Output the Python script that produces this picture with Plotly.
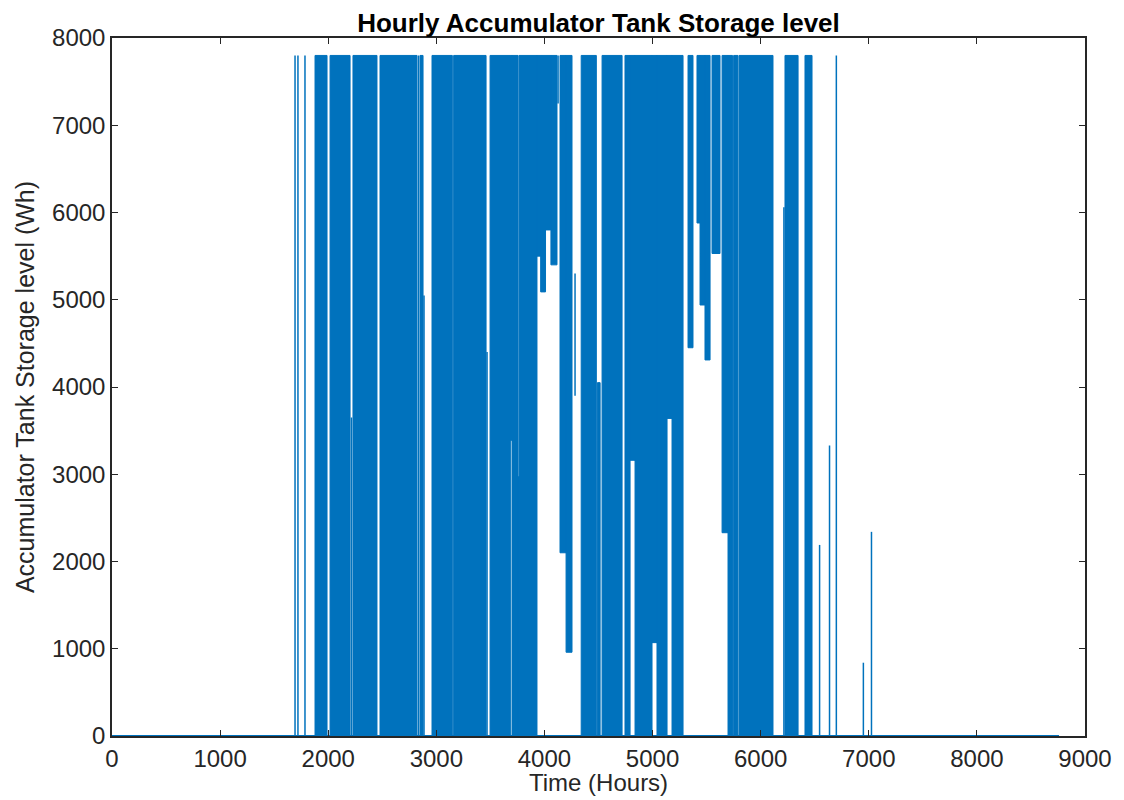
import plotly.graph_objects as go

# Solid regions where the hourly level swings repeatedly (hours, Wh)
block_start = [1878, 2017, 2229, 2479, 2849, 2960, 3160, 3497, 3685, 3700, 3756, 3765,
               3931, 3965, 4010, 4060, 4144, 4200, 4340, 4490, 4533, 4745, 4792, 4838,
               4995, 5041, 5134, 5180, 5328, 5411, 5439, 5485, 5550, 5643, 5698, 5750,
               5800, 6225, 6410]
block_end = [1989, 2202, 2451, 2821, 2877, 3148, 3460, 3685, 3700, 3756, 3765, 3931,
             3965, 4010, 4060, 4116, 4200, 4255, 4480, 4515, 4718, 4792, 4838, 4995,
             5041, 5134, 5180, 5282, 5374, 5439, 5485, 5532, 5624, 5698, 5740, 5790,
             6114, 6346, 6475]
block_low = [0, 0, 0, 0, 0, 0, 0, 0, 3390, 0, 0, 0,
             5500, 5090, 5800, 5400, 2100, 960, 0, 0, 0, 0, 3160, 0,
             1070, 0, 3640, 0, 4450, 5880, 4940, 4310, 5530, 2330, 0, 0,
             0, 0, 0]
block_high = [7800, 7800, 7800, 7800, 7800, 7800, 7800, 7800, 7800, 7800, 2970, 7800,
              7800, 7800, 7800, 7800, 7800, 7800, 7800, 4050, 7800, 7800, 7800, 7800,
              7800, 7800, 7800, 7800, 7800, 7800, 7800, 7800, 7800, 7800, 7800, 7800,
              7800, 7800, 7800]

# Isolated hourly spikes (hour, low, high)
spike_hour = [1693, 1720, 1785, 2215, 2835, 2886, 3469, 4126, 4283,
              6215, 6545, 6637, 6700, 6950, 7025]
spike_low = [0, 0, 0, 0, 0, 0, 0, 7250, 3900,
             0, 0, 0, 0, 0, 0]
spike_high = [7800, 7800, 7800, 3650, 7800, 5050, 4400, 7800, 5300,
              6060, 2190, 3330, 7800, 840, 2340]

hours_total = [0, 8760]
empty_level = [0, 0]

x_ticks = [0, 1000, 2000, 3000, 4000, 5000, 6000, 7000, 8000, 9000]
y_ticks = [0, 1000, 2000, 3000, 4000, 5000, 6000, 7000, 8000]

BLUE = "#0072BD"
AX = "#262626"

bx, by = [], []
for s, e, lo, hi in zip(block_start, block_end, block_low, block_high):
    bx += [s, s, e, e, s, None]
    by += [lo, hi, hi, lo, lo, None]

sx, sy = [], []
for h, lo, hi in zip(spike_hour, spike_low, spike_high):
    sx += [h, h, None]
    sy += [lo, hi, None]

fig = go.Figure()
fig.add_trace(go.Scatter(x=hours_total, y=empty_level, mode="lines",
                         line=dict(color=BLUE, width=2), hoverinfo="skip"))
fig.add_trace(go.Scatter(x=bx, y=by, mode="lines", fill="toself", fillcolor=BLUE,
                         line=dict(color=BLUE, width=1), hoverinfo="skip"))
fig.add_trace(go.Scatter(x=sx, y=sy, mode="lines",
                         line=dict(color=BLUE, width=1.5), hoverinfo="skip"))

font_family = "Liberation Sans, Arial, sans-serif"
fig.update_layout(
    width=1124, height=800,
    margin=dict(l=104, r=47, t=30, b=72),
    paper_bgcolor="white", plot_bgcolor="white",
    showlegend=False,
    font=dict(family=font_family, color=AX, size=25),
    title=dict(text="<b>Hourly Accumulator Tank Storage level</b>",
               x=0.5, xanchor="center", xref="paper",
               y=0.9815, yanchor="middle", yref="container",
               font=dict(size=26, color="black", family=font_family)),
    xaxis=dict(range=[0, 9000], tickvals=x_ticks, ticks="inside", ticklen=6,
               tickcolor=AX, showline=True, linecolor=AX, linewidth=1.5,
               mirror="ticks", showgrid=False, zeroline=False,
               tickfont=dict(size=24, color=AX)),
    yaxis=dict(range=[0, 8000], tickvals=y_ticks, ticks="inside", ticklen=6,
               tickcolor=AX, showline=True, linecolor=AX, linewidth=1.5,
               mirror="ticks", showgrid=False, zeroline=False,
               tickfont=dict(size=24, color=AX),
               title=dict(text="Accumulator Tank Storage level (Wh)",
                          font=dict(size=25, color=AX), standoff=10)),
    annotations=[dict(text="Time (Hours)", xref="paper", x=0.5, xanchor="center",
                      yref="paper", y=-0.067, yanchor="middle", showarrow=False,
                      font=dict(size=24, color=AX, family=font_family))],
)

fig.write_html("out.html")
